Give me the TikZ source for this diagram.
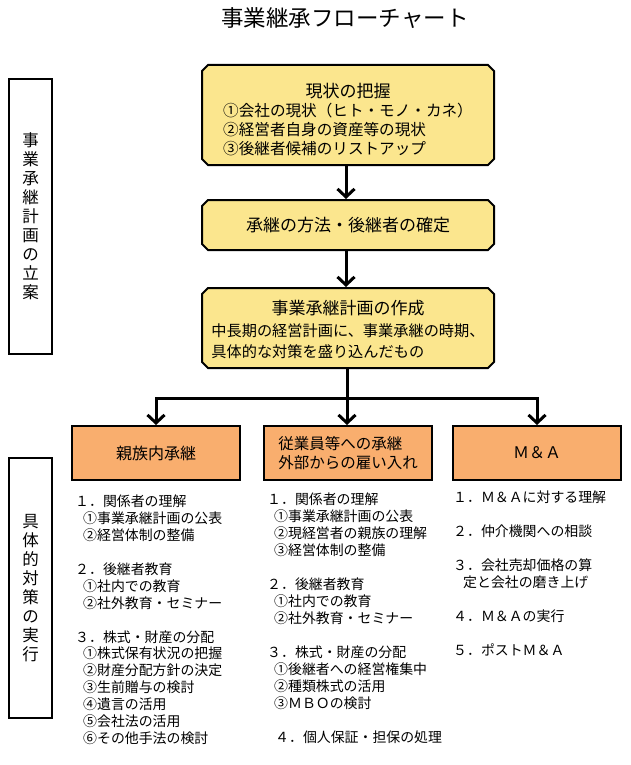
\documentclass[tikz,border=0pt]{standalone}
\usepackage{fontspec}
\setmainfont{Noto Sans CJK JP}
\usepackage{xcolor}
\definecolor{step-fill}{HTML}{FBE68E}
\definecolor{route-fill}{HTML}{F9AE6E}
\usetikzlibrary{
  shapes.misc,
  arrows.meta,
  positioning,
  calc
}
\newcommand{\fsz}[2]{\fontsize{#1}{#2}\selectfont}

\begin{document}
\begin{tikzpicture}[
    x=1pt, y=-1pt,
    stepbox/.style={
      chamfered rectangle,
      chamfered rectangle xsep=3pt,
      chamfered rectangle ysep=3pt,
      draw=black,
      line width=2pt,
      fill=step-fill,
      minimum width=292pt,
      inner sep=0pt,
      align=center
    },
    routebox/.style={
      rectangle,
      draw=black,
      line width=2pt,
      fill=route-fill,
      minimum width=168pt,
      minimum height=54pt,
      inner sep=0pt,
      font=\fsz{16}{20}
    },
    lane/.style={
      rectangle,
      draw=black,
      line width=1.5pt,
      minimum width=43pt,
      inner sep=0pt,
      align=center,
      font=\fsz{16.5}{19}
    },
    todo/.style={
      anchor=north west,
      inner sep=0pt,
      align=left,
      font=\fsz{13.9}{16.9}
    },
    arr/.style={
      -{Straight Barb[length=8pt,width=17pt]},
      line width=3pt
    },
    link/.style={
      line width=3pt
    }
  ]
    \useasboundingbox (0,0) rectangle (630,765);

    % ---- Title ----
    \node[font=\fsz{22.5}{25}] (title) at (345, 18) {事業継承フローチャート};

    % ---- Side lanes ----
    \node[lane, minimum height=275pt] (plan-lane) at (30.5, 216.5)
      {事\\業\\承\\継\\計\\画\\の\\立\\案};
    \node[lane, minimum height=260pt] (act-lane)  at (30.5, 588)
      {具\\体\\的\\対\\策\\の\\実\\行};

    % ---- Planning steps ----
    \node[stepbox, minimum height=100pt] (now) at (348, 115)
      {{\fsz{17}{20}現状の把握}\\[3pt]
       \fsz{15.6}{18.5}\begin{tabular}{@{}l@{}}
         ①会社の現状（ヒト・モノ・カネ）\\
         ②経営者自身の資産等の現状\\
         ③後継者候補のリストアップ
       \end{tabular}\\[-14pt]};
    \node[stepbox, minimum height=50pt, font=\fsz{17}{20}] (who) at (348, 225)
      {承継の方法・後継者の確定};
    \node[stepbox, minimum height=80pt] (plan) at (348, 328)
      {{\fsz{17}{20}事業承継計画の作成}\\[5pt]
       \fsz{15.2}{20.5}\begin{tabular}{@{}l@{}}
         中長期の経営計画に、事業承継の時期、\\
         具体的な対策を盛り込んだもの
       \end{tabular}\\[-9pt]};

    % ---- Routes ----
    \node[routebox] (family) at (156, 453) {親族内承継};
    \node[routebox, align=left, font=\fsz{15.5}{19}] (staff) at (348, 453)
      {従業員等への承継\\外部からの雇い入れ};
    \node[routebox] (mna)    at (537, 453) {Ｍ＆Ａ};

    % ---- Measures ----
    \node[todo] (family-list) at (75, 495)
      {１．関係者の理解\\
       \hspace*{8pt}①事業承継計画の公表\\
       \hspace*{8pt}②経営体制の整備\\[16.9pt]
       ２．後継者教育\\
       \hspace*{8pt}①社内での教育\\
       \hspace*{8pt}②社外教育・セミナー\\[16.9pt]
       ３．株式・財産の分配\\
       \hspace*{8pt}①株式保有状況の把握\\
       \hspace*{8pt}②財産分配方針の決定\\
       \hspace*{8pt}③生前贈与の検討\\
       \hspace*{8pt}④遺言の活用\\
       \hspace*{8pt}⑤会社法の活用\\
       \hspace*{8pt}⑥その他手法の検討};
    \node[todo] (staff-list) at (267, 493)
      {１．関係者の理解\\
       \hspace*{7pt}①事業承継計画の公表\\
       \hspace*{7pt}②現経営者の親族の理解\\
       \hspace*{7pt}③経営体制の整備\\[17.1pt]
       ２．後継者教育\\
       \hspace*{7pt}①社内での教育\\
       \hspace*{7pt}②社外教育・セミナー\\[17.1pt]
       ３．株式・財産の分配\\
       \hspace*{7pt}①後継者への経営権集中\\
       \hspace*{7pt}②種類株式の活用\\
       \hspace*{7pt}③ＭＢＯの検討\\[17.1pt]
       \hspace*{8pt}４．個人保証・担保の処理};
    \node[todo] (mna-list) at (453, 491)
      {１．Ｍ＆Ａに対する理解\\[17pt]
       ２．仲介機関への相談\\[17pt]
       ３．会社売却価格の算\\
       \hspace*{10pt}定と会社の磨き上げ\\[17pt]
       ４．Ｍ＆Ａの実行\\[17pt]
       ５．ポストＭ＆Ａ};

    % ---- Flow ----
    \coordinate (split) at (347, 398);
    \draw[arr] (now.south -| 346,0) -- (who.north -| 346,0);
    \draw[arr] (who.south -| 346,0) -- (plan.north -| 346,0);
    \draw[link] (plan.south -| split) -- (split);
    \draw[arr] (split) -| (family.north);
    \draw[arr] (split) -| (mna.north);
    \draw[arr] (split) -- (split |- staff.north);
  \end{tikzpicture}
\end{document}
